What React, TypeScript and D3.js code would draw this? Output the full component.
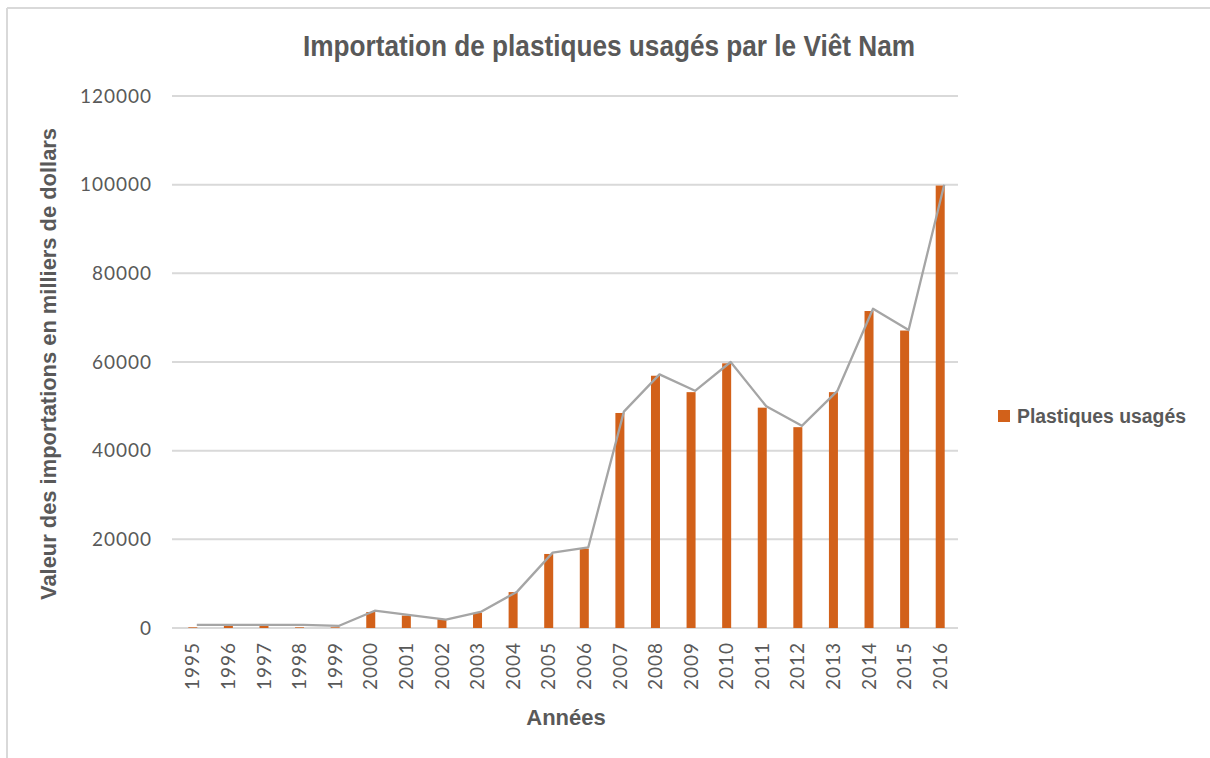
import { useEffect, useRef } from "react";
import * as d3 from "d3";

// Years on the x axis
const YEARS = [
  "1995", "1996", "1997", "1998", "1999", "2000", "2001", "2002", "2003", "2004", "2005",
  "2006", "2007", "2008", "2009", "2010", "2011", "2012", "2013", "2014", "2015", "2016",
];

// Bar values (milliers de dollars)
const BAR_VALUES = [
  150, 700, 700, 150, 150, 3600, 2800, 2000, 3400, 8100, 16700,
  17900, 48500, 56900, 53200, 59700, 49700, 45300, 53200, 71500, 67100, 99800,
];

// Grey trend line drawn over the bars
const LINE_VALUES = [
  700, 700, 700, 700, 500, 3900, 2900, 1900, 3700, 8200, 17000,
  18200, 48800, 57200, 53500, 60000, 50000, 45600, 53500, 72000, 67200, 100000,
];

const Y_TICKS = [0, 20000, 40000, 60000, 80000, 100000, 120000];

const TITLE = "Importation de plastiques usagés par le Viêt Nam";
const Y_TITLE = "Valeur des importations en milliers de dollars";
const X_TITLE = "Années";
const LEGEND_LABEL = "Plastiques usagés";

const BAR_COLOR = "#d2611a";
const LINE_COLOR = "#a5a5a5";
const GRID_COLOR = "#d9d9d9";
const TEXT_COLOR = "#595959";

export default function App() {
  const ref = useRef<HTMLDivElement>(null);

  useEffect(() => {
    if (!ref.current) return;
    const container = ref.current;
    container.innerHTML = "";

    const W = 1210;
    const H = 758;
    const plot = { left: 175, right: 958, top: 96, bottom: 628 };

    const svg = d3
      .select(container)
      .append("svg")
      .attr("width", W)
      .attr("height", H)
      .style("position", "absolute")
      .style("left", 0)
      .style("top", 0)
      .style("background", "#fff");

    // outer frame (top and left edges only)
    svg.append("line").attr("x1", 7).attr("x2", W).attr("y1", 8).attr("y2", 8)
      .attr("stroke", GRID_COLOR).attr("stroke-width", 2);
    svg.append("line").attr("x1", 7).attr("x2", 7).attr("y1", 8).attr("y2", H)
      .attr("stroke", GRID_COLOR).attr("stroke-width", 2);

    const x = d3.scaleBand<string>().domain(YEARS).range([plot.left, plot.right]).padding(0);
    const y = d3.scaleLinear().domain([0, 120000]).range([plot.bottom, plot.top]);
    const cx = (d: string) => (x(d) ?? 0) + x.bandwidth() / 2;

    // gridlines
    svg
      .append("g")
      .selectAll("line")
      .data(Y_TICKS)
      .join("line")
      .attr("x1", plot.left - 3)
      .attr("x2", plot.right)
      .attr("y1", (d) => y(d))
      .attr("y2", (d) => y(d))
      .attr("stroke", GRID_COLOR)
      .attr("stroke-width", 2);

    // y tick labels
    svg
      .append("g")
      .selectAll("text")
      .data(Y_TICKS)
      .join("text")
      .attr("x", 152)
      .attr("y", (d) => y(d))
      .attr("dy", "0.35em")
      .attr("text-anchor", "end")
      .attr("font-family", "Lato, sans-serif")
      .attr("font-size", 19)
      .attr("letter-spacing", 1)
      .attr("fill", TEXT_COLOR)
      .text((d) => String(d));

    // x tick labels (rotated)
    svg
      .append("g")
      .selectAll("text")
      .data(YEARS)
      .join("text")
      .attr("transform", (d) => `translate(${cx(d)},${plot.bottom + 14}) rotate(-90)`)
      .attr("dy", "0.35em")
      .attr("text-anchor", "end")
      .attr("font-family", "Lato, sans-serif")
      .attr("font-size", 19)
      .attr("letter-spacing", 1)
      .attr("fill", TEXT_COLOR)
      .text((d) => d);

    // bars
    const barW = 9;
    svg
      .append("g")
      .selectAll("rect")
      .data(YEARS)
      .join("rect")
      .attr("x", (d) => cx(d) - barW / 2)
      .attr("y", (_, i) => y(BAR_VALUES[i]))
      .attr("width", barW)
      .attr("height", (_, i) => plot.bottom - y(BAR_VALUES[i]))
      .attr("fill", BAR_COLOR);

    // trend line
    const line = d3
      .line<number>()
      .x((_, i) => cx(YEARS[i]) + 4)
      .y((d) => y(d));
    svg
      .append("path")
      .datum(LINE_VALUES)
      .attr("fill", "none")
      .attr("stroke", LINE_COLOR)
      .attr("stroke-width", 2.3)
      .attr("stroke-linejoin", "round")
      .attr("d", line);

    // title (condensed look)
    svg
      .append("text")
      .attr("x", 609)
      .attr("y", 56)
      .attr("text-anchor", "middle")
      .attr("font-family", "'Liberation Sans', Arial, sans-serif")
      .attr("font-weight", "bold")
      .attr("font-size", 30)
      .attr("textLength", 612)
      .attr("lengthAdjust", "spacingAndGlyphs")
      .attr("fill", TEXT_COLOR)
      .text(TITLE);

    // y axis title
    svg
      .append("text")
      .attr("transform", `translate(48,364) rotate(-90)`)
      .attr("dy", "0.35em")
      .attr("text-anchor", "middle")
      .attr("font-family", "'Liberation Sans', Arial, sans-serif")
      .attr("font-weight", "bold")
      .attr("font-size", 22)
      .attr("textLength", 472)
      .attr("lengthAdjust", "spacingAndGlyphs")
      .attr("fill", TEXT_COLOR)
      .text(Y_TITLE);

    // x axis title
    svg
      .append("text")
      .attr("x", 566)
      .attr("y", 725)
      .attr("text-anchor", "middle")
      .attr("font-family", "'Liberation Sans', Arial, sans-serif")
      .attr("font-weight", "bold")
      .attr("font-size", 22)
      .attr("fill", TEXT_COLOR)
      .text(X_TITLE);

    // legend
    const legend = svg.append("g").attr("transform", "translate(998,410)");
    legend.append("rect").attr("width", 12).attr("height", 12).attr("fill", BAR_COLOR);
    legend
      .append("text")
      .attr("x", 19)
      .attr("y", 6)
      .attr("dy", "0.35em")
      .attr("font-family", "'Liberation Sans', Arial, sans-serif")
      .attr("font-weight", "bold")
      .attr("font-size", 20)
      .attr("textLength", 169)
      .attr("lengthAdjust", "spacingAndGlyphs")
      .attr("fill", TEXT_COLOR)
      .text(LEGEND_LABEL);

    return () => {
      container.innerHTML = "";
    };
  }, []);

  return <div ref={ref} />;
}
